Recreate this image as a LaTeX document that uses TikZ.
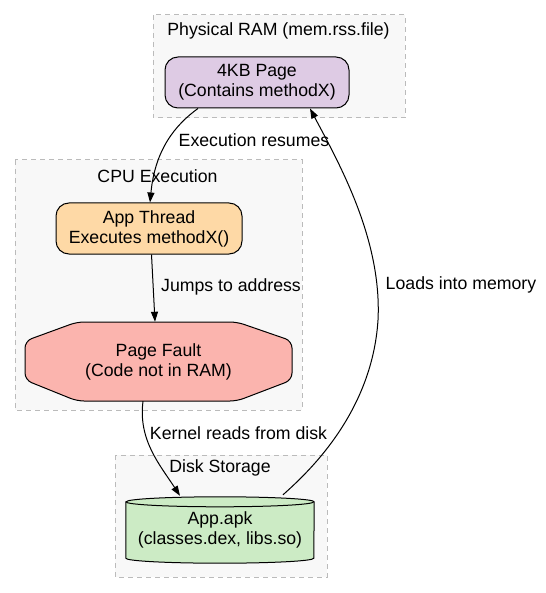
\documentclass[tikz,border=0pt]{standalone}
\usepackage{fontspec}
\setmainfont{Liberation Sans}
\usetikzlibrary{arrows.meta,calc}
\newcommand\dfont{\fontsize{17.7}{20}\selectfont}
\definecolor{clfill}{HTML}{F8F8F8}
\definecolor{clline}{HTML}{BBBBBB}
\definecolor{cpurple}{HTML}{DECBE4}
\definecolor{corange}{HTML}{FED9A6}
\definecolor{cred}{HTML}{FBB4AE}
\definecolor{cgreen}{HTML}{CCEBC5}
\tikzset{
  cluster/.style={draw=clline, fill=clfill, line width=1pt, dash pattern=on 5pt off 4pt},
  title/.style={font=\dfont, inner sep=0pt},
  rbox/.style={draw=black, line width=1pt, rounded corners=13pt, align=center, font=\dfont, inner sep=0pt},
  plain/.style={align=center, font=\dfont, inner sep=0pt},
  edge/.style={draw=black, line width=1pt, -{Triangle[length=10pt,width=7pt]}},
  lbl/.style={font=\dfont, inner sep=0pt},
}
\begin{document}
\begin{tikzpicture}[x=1pt,y=-1pt]
\useasboundingbox (0,0) rectangle (545,593);
% clusters
\draw[cluster] (153,15) rectangle (405,118);
\draw[cluster] (15,160) rectangle (302,410);
\draw[cluster] (115,455) rectangle (327,577);
\node[title] (tram) at (278.5,30.5) {Physical RAM (mem.rss.file)};
\node[title] (tcpu) at (157.5,176.5) {CPU Execution};
\node[title] (tdisk) at (220,468) {Disk Storage};
% nodes
\node[rbox, fill=cpurple, minimum width=184pt, minimum height=51pt] (page) at (257,82.5) {4KB Page\\(Contains methodX)};
\node[rbox, fill=corange, minimum width=186pt, minimum height=51pt] (thread) at (149,228.5) {App Thread\\Executes methodX()};
\draw[line width=1pt, fill=cred, rounded corners=7pt] (77,322) -- (237,322) -- (292,341) -- (292,380) -- (237,401) -- (77,401) -- (25,380) -- (25,341) -- cycle;
\node[plain, minimum width=267pt, minimum height=79pt] (fault) at (158.5,361.5) {Page Fault\\(Code not in RAM)};
\node[plain, minimum width=188pt, minimum height=66pt] (apk) at (220,530) {};
\draw[line width=1pt, fill=cgreen] ([yshift=-5pt]apk.north west) -- ([yshift=5pt]apk.south west)
  arc[start angle=180, end angle=360, x radius=94pt, y radius=5pt]
  -- ([yshift=-5pt]apk.north east)
  arc[start angle=0, end angle=180, x radius=94pt, y radius=5pt] -- cycle;
\draw[line width=1pt] ([yshift=-5pt]apk.north west) arc[start angle=180, end angle=360, x radius=94pt, y radius=5pt];
\node[plain] (apktext) at (220,530) {App.apk\\(classes.dex, libs.so)};
% edges
\draw[edge] ([xshift=-59pt]page.south) .. controls (175,125) and (155,150) .. ([xshift=1pt]thread.north);
\draw[edge] ([xshift=2.5pt]thread.south) -- ([xshift=-3.5pt]fault.north);
\draw[edge] ([xshift=-15.5pt]fault.south) .. controls (138,440) and (160,465) .. ([xshift=-40pt,yshift=1pt]apk.north);
\draw[edge] ([xshift=63pt,yshift=2pt]apk.north) .. controls (305,475) and (372,415) .. (378,320)
  .. controls (382,240) and (340,165) .. ([xshift=53pt]page.south);
% labels
\node[lbl] (l1) at (254,140) {Execution resumes};
\node[lbl] (l2) at (231,287) {Jumps to address};
\node[lbl] (l3) at (238.5,433) {Kernel reads from disk};
\node[lbl] (l4) at (461,285) {Loads into memory};
\end{tikzpicture}
\end{document}
